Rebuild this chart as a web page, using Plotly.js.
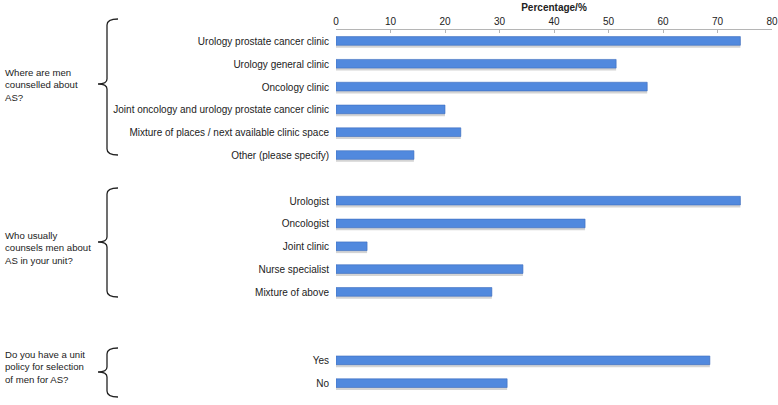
<!DOCTYPE html>
<html>
<head>
<meta charset="utf-8">
<script src="https://cdn.plot.ly/plotly-3.0.1.min.js"></script>
<style>html,body{margin:0;padding:0;background:#fff;}#chart{width:778px;height:405px;}</style>
</head>
<body>
<div id="chart"></div>
<script>
// ---- data ----
const q1Question = "Where are men<br>counselled about<br>AS?";
const q1Labels = ["Urology prostate cancer clinic", "Urology general clinic", "Oncology clinic",
  "Joint oncology and urology prostate cancer clinic", "Mixture of places / next available clinic space",
  "Other (please specify)"];
const q1Values = [74.2, 51.4, 57.1, 20.0, 22.9, 14.3];

const q2Question = "Who usually<br>counsels men about<br>AS in your unit?";
const q2Labels = ["Urologist", "Oncologist", "Joint clinic", "Nurse specialist", "Mixture of above"];
const q2Values = [74.2, 45.7, 5.7, 34.3, 28.6];

const q3Question = "Do you have a unit<br>policy for selection<br>of men for AS?";
const q3Labels = ["Yes", "No"];
const q3Values = [68.6, 31.4];

const xTickVals = [0, 10, 20, 30, 40, 50, 60, 70, 80];
const xTitle = "Percentage/%";

// ---- build category list with blank spacer rows ----
const SP1 = "_gap1", SP2 = "_gap2", SP3 = "_gap3";
const yCats = [...q1Labels, SP1, ...q2Labels, SP2, SP3, ...q3Labels];
const xVals = [...q1Values, null, ...q2Values, null, null, ...q3Values];
const shownLabels = [...q1Labels, ...q2Labels, ...q3Labels];

// ---- pixel helpers for decorations ----
const L = 336, R = 772, T = 30, B = 395, W = 778, H = 405;
const X = p => (p - L) / (R - L);
const Y = p => (B - p) / (B - T);

function brace(t, m, b) {
  const xh = 118, xv = 107, xt = 98;
  return `M ${X(xh)},${Y(t)} Q ${X(xv)},${Y(t)} ${X(xv)},${Y(t + 6)} ` +
    `L ${X(xv)},${Y(m - 5)} Q ${X(xv)},${Y(m)} ${X(xt)},${Y(m)} ` +
    `Q ${X(xv)},${Y(m)} ${X(xv)},${Y(m + 5)} ` +
    `L ${X(xv)},${Y(b - 6)} Q ${X(xv)},${Y(b)} ${X(xh)},${Y(b)}`;
}

const FONT = "Liberation Sans, Arial, Helvetica, sans-serif";

const traces = [
  { // soft shadow
    type: "bar", orientation: "h", y: yCats, x: xVals,
    width: 0.4, offset: -0.12,
    marker: { color: "rgba(60,60,60,0.22)", line: { width: 0 } },
    hoverinfo: "skip", showlegend: false
  },
  {
    type: "bar", orientation: "h", y: yCats, x: xVals,
    width: 0.38, offset: -0.21,
    marker: { color: "#5189de", line: { color: "#3c6cbd", width: 0.6 } },
    showlegend: false
  }
];

const qFont = { family: FONT, size: 9.6, color: "#222" };

const layout = {
  width: W, height: H,
  margin: { l: L, r: W - R, t: T, b: H - B, pad: 0 },
  paper_bgcolor: "#ffffff", plot_bgcolor: "#ffffff",
  barmode: "overlay",
  font: { family: FONT, size: 10, color: "#222" },
  xaxis: {
    side: "top", range: [0, 80], tickvals: xTickVals, ticktext: xTickVals.map(String),
    showline: true, linecolor: "#b5b5b5", linewidth: 1,
    ticks: "inside", ticklen: 3, tickcolor: "#b5b5b5",
    showgrid: false, zeroline: false, fixedrange: true,
    tickfont: { family: FONT, size: 10, color: "#222" },
    title: { text: "<b>" + xTitle + "</b>", font: { family: FONT, size: 10, color: "#222" }, standoff: 2 },
    automargin: false
  },
  yaxis: {
    type: "category", categoryorder: "array", categoryarray: yCats,
    tickmode: "array", tickvals: shownLabels, ticktext: shownLabels,
    autorange: "reversed", showline: false, ticks: "", showgrid: false, zeroline: false,
    tickfont: { family: FONT, size: 10, color: "#222" },
    ticklabelstandoff: 6, automargin: false, fixedrange: true
  },
  annotations: [
    { xref: "paper", yref: "paper", x: X(3), y: Y(85), xanchor: "left", yanchor: "middle",
      align: "left", showarrow: false, text: q1Question, font: qFont },
    { xref: "paper", yref: "paper", x: X(3), y: Y(248), xanchor: "left", yanchor: "middle",
      align: "left", showarrow: false, text: q2Question, font: qFont },
    { xref: "paper", yref: "paper", x: X(3), y: Y(367), xanchor: "left", yanchor: "middle",
      align: "left", showarrow: false, text: q3Question, font: qFont }
  ],
  shapes: [
    { type: "path", xref: "paper", yref: "paper", path: brace(19, 84, 155), line: { color: "#222", width: 1.3 } },
    { type: "path", xref: "paper", yref: "paper", path: brace(188, 242, 297), line: { color: "#222", width: 1.3 } },
    { type: "path", xref: "paper", yref: "paper", path: brace(348, 372, 397), line: { color: "#222", width: 1.3 } }
  ]
};

Plotly.newPlot("chart", traces, layout, { displayModeBar: false, staticPlot: true });
</script>
</body>
</html>
